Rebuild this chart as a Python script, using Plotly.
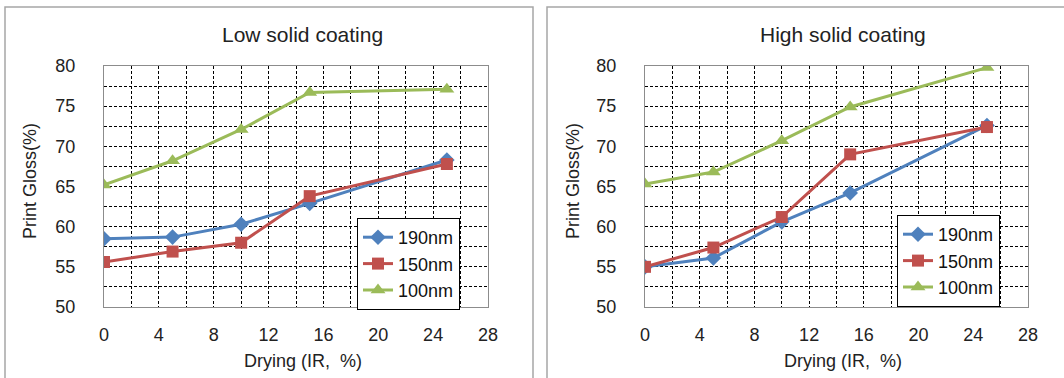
import plotly.graph_objects as go

drying = [0, 5, 10, 15, 25]
series_names = ["190nm", "150nm", "100nm"]
low_190 = [58.5, 58.7, 60.3, 62.9, 68.3]
low_150 = [55.6, 56.9, 58.0, 63.8, 67.8]
low_100 = [65.2, 68.2, 72.1, 76.7, 77.1]
high_190 = [55.0, 56.1, 60.6, 64.2, 72.6]
high_150 = [55.0, 57.4, 61.2, 69.0, 72.4]
high_100 = [65.3, 66.8, 70.7, 74.9, 79.8]
titles = ["Low solid coating", "High solid coating"]
x_title = "Drying (IR,  %)"
y_title = "Print Gloss(%)"

colors = ["#4F81BD", "#C0504D", "#9BBB59"]
symbols = ["diamond", "square", "triangle-up"]
sizes = [12, 12, 13]
W, H = 1064, 378
FONT = "Liberation Sans, Arial, sans-serif"

fig = go.Figure()
panels = [
    ("x", "y", "legend", [low_190, low_150, low_100]),
    ("x2", "y2", "legend2", [high_190, high_150, high_100]),
]
for xa, ya, lg, data in panels:
    for name, vals, c, s, sz in zip(series_names, data, colors, symbols, sizes):
        fig.add_trace(go.Scatter(
            x=drying, y=vals, name=name, xaxis=xa, yaxis=ya, legend=lg,
            mode="lines+markers",
            line=dict(color=c, width=3),
            marker=dict(symbol=s, size=sz, color=c),
        ))

def px_x(p):
    return p / W

def px_y(p):
    return 1 - p / H

ydom = [px_y(307), px_y(66)]
xdoms = [[px_x(104), px_x(488)], [px_x(645), px_x(1028)]]

axis_common = dict(
    showline=True, mirror=True, linecolor="#8c8c8c", linewidth=1,
    gridcolor="black", gridwidth=1, griddash="3px,2px",
    ticks="", zeroline=False, automargin=False,
    tickfont=dict(family=FONT, size=18, color="#222"),
)
for i, dom in enumerate(xdoms):
    sfx = "" if i == 0 else str(i + 1)
    fig.update_layout(**{
        "xaxis" + sfx: dict(
            domain=dom, range=[0, 28], dtick=4, tick0=0, anchor="y" + sfx,
            minor=dict(dtick=2, showgrid=True, gridcolor="black", griddash="3px,2px", gridwidth=1),
            ticklabelstandoff=11, **axis_common),
        "yaxis" + sfx: dict(
            domain=ydom, range=[50, 80], dtick=5, tick0=50, anchor="x" + sfx,
            minor=dict(dtick=2.5, showgrid=True, gridcolor="black", griddash="3px,2px", gridwidth=1),
            ticklabelstandoff=24, **axis_common),
    })

ann = []
title_x = [302, 843]
xt_x = [303, 843]
yt_x = [30, 573]
for i in range(2):
    ann.append(dict(text=titles[i], x=px_x(title_x[i]), y=px_y(34), xref="paper", yref="paper",
                    xanchor="center", yanchor="middle",
                    showarrow=False, font=dict(family=FONT, size=21, color="#222")))
    ann.append(dict(text=x_title, x=px_x(xt_x[i]), y=px_y(361), xref="paper", yref="paper",
                    xanchor="center", yanchor="middle",
                    showarrow=False, font=dict(family=FONT, size=18, color="#222")))
    ann.append(dict(text=y_title, x=px_x(yt_x[i]), y=px_y(181), xref="paper", yref="paper",
                    xanchor="center", yanchor="middle",
                    showarrow=False, textangle=-90, font=dict(family=FONT, size=18, color="#222")))

shapes = [
    dict(type="rect", xref="paper", yref="paper", x0=px_x(5), x1=px_x(533), y0=px_y(400), y1=px_y(7),
         line=dict(color="#a6a6a6", width=1.5)),
    dict(type="rect", xref="paper", yref="paper", x0=px_x(547), x1=px_x(1080), y0=px_y(400), y1=px_y(7),
         line=dict(color="#a6a6a6", width=1.5)),
]

legend_common = dict(
    bgcolor="white", bordercolor="black", borderwidth=1,
    font=dict(family=FONT, size=18, color="#111"),
    xanchor="left", yanchor="top", tracegroupgap=0, itemwidth=30,
)
fig.update_layout(
    width=W, height=H,
    margin=dict(l=0, r=0, t=0, b=0, pad=0, autoexpand=False),
    paper_bgcolor="white", plot_bgcolor="white",
    showlegend=True,
    legend=dict(x=px_x(357), y=px_y(218), **legend_common),
    legend2=dict(x=px_x(897), y=px_y(215), **legend_common),
    annotations=ann, shapes=shapes,
)

fig.write_html("out.html", config={"displayModeBar": False},
               post_script="document.body.style.margin='0';document.body.style.overflow='hidden';")
